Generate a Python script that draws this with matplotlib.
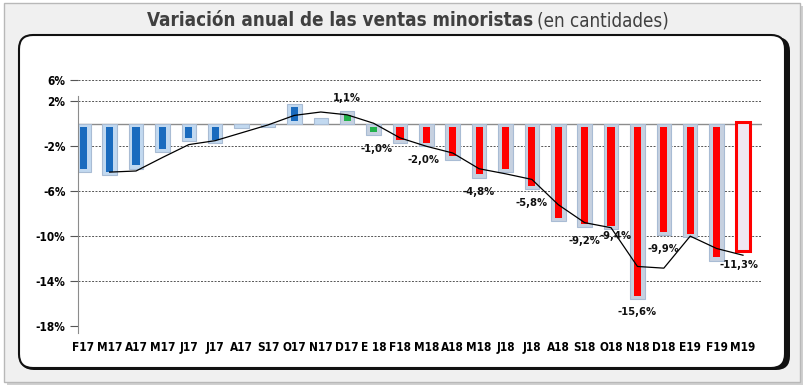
import numpy as np
import matplotlib.pyplot as plt
from matplotlib.patches import FancyBboxPatch, Rectangle
from matplotlib.transforms import IdentityTransform

# datos
meses = ["F17", "M17", "A17", "M17", "J17", "J17", "A17", "S17", "O17", "N17", "D17", "E 18",
         "F18", "M18", "A18", "M18", "J18", "J18", "A18", "S18", "O18", "N18", "D18", "E19", "F19", "M19"]
variacion = [-4.3, -4.6, -4.0, -2.5, -1.55, -1.7, -0.4, -0.3, 1.8, 0.55, 1.1, -1.0,
             -1.7, -2.0, -3.2, -4.8, -4.3, -5.8, -8.65, -9.2, -9.4, -15.6, -9.9, -10.1, -12.2, -11.3]
tendencia = [np.nan, -4.3, -4.2, -3.0, -1.85, -1.5, -0.8, -0.1, 0.75, 1.05, 0.8, 0.05,
             -1.25, -2.0, -2.6, -4.0, -4.45, -4.95, -7.2, -8.8, -9.25, -12.7, -12.85, -10.0, -11.1, -11.7]
con_etiqueta = [10, 11, 13, 15, 17, 19, 20, 21, 22, 25]
ticks_y = [3.9, 2, -2, -6, -10, -14, -18]
ticks_y_txt = ["6%", "2%", "-2%", "-6%", "-10%", "-14%", "-18%"]

azul = "#1A6BBE"
verde = "#22B14C"
rojo = "#FF0000"
colores = [azul] * 10 + [verde] * 2 + [rojo] * 14
# desplazamiento de algunas etiquetas (puntos)
desplaz = {11: (2, -10), 13: (-2, -10), 19: (0, -10), 20: (3, -5), 21: (0, -9), 25: (-3, -10)}
fuente = dict(family="DejaVu Sans", fontstretch="condensed", fontweight="bold")

fig = plt.figure(figsize=(8.09, 3.88), dpi=100)
fig.patch.set_facecolor("white")

# marco exterior, franja gris y panel negro redondeado (en pixeles)
fondo = [
    Rectangle((7, 3), 796, 379, facecolor="#D0D0D0", edgecolor="none"),
    Rectangle((4, 6), 796, 379, facecolor="#F0F0F0", edgecolor="#B8B8B8", lw=1),
    FancyBboxPatch((20, 18), 770, 333, boxstyle="round,pad=0,rounding_size=14",
                   facecolor="#111111", edgecolor="none"),
    FancyBboxPatch((19, 20), 766, 333, boxstyle="round,pad=0,rounding_size=14",
                   facecolor="white", edgecolor="#111111", lw=1.5),
]
for p in fondo:
    p.set_transform(IdentityTransform())
    p.set_zorder(-10)
    fig.patches.append(p)

fig.text(533 / 809, 1 - 21 / 388, "Variación anual de las ventas minoristas", ha="right", va="center",
         fontsize=13.5, fontweight="bold", color="#404040", family="DejaVu Sans", fontstretch="condensed")
fig.text(537 / 809, 1 - 21 / 388, "(en cantidades)", ha="left", va="center",
         fontsize=13.5, color="#404040", family="DejaVu Sans", fontstretch="condensed")

ax = fig.add_axes([78 / 809, 1 - 326 / 388, (762 - 78) / 809, (326 - 80) / 388])
ax.set_facecolor("none")
x = np.arange(len(meses))

# barra clara de fondo
for i, v in enumerate(variacion):
    if i == len(variacion) - 1:
        ax.bar(i, v - 0.15, bottom=0.15, width=0.52, color="#EFE6F2", edgecolor=rojo, lw=2.2, zorder=3)
        continue
    claro = "#C2D9F0" if colores[i] == azul else "#C6D1E0"
    ax.bar(i, v, width=0.55, color=claro, edgecolor="#A9BCD4", lw=0.8, zorder=2)
    # barra interior oscura
    s = np.sign(v)
    if abs(v) > 0.55:
        ax.bar(i, (v - s * 0.3) - s * 0.25, bottom=s * 0.25, width=0.27, color=colores[i], lw=0, zorder=3)

ax.plot(x, tendencia, color="black", lw=0.9, zorder=4)

for i in con_etiqueta:
    v = variacion[i]
    txt = f"{v:.1f}%".replace(".", ",")
    off = desplaz.get(i, (0, 10 if v > 0 else -10))
    ax.annotate(txt, (i, v), xytext=off, textcoords="offset points", ha="center", va="center",
                fontsize=8, color="#111111", zorder=5, **fuente)

ax.axhline(0, color="#8C8C8C", lw=1, zorder=1)
for t in ticks_y:
    ax.axhline(t, color="#555555", lw=0.7, dashes=(2, 1.5), zorder=1)

ax.set_xlim(-0.2, 25.72)
ax.set_ylim(-18, 3.9)
ax.set_yticks(ticks_y)
ax.set_yticklabels(ticks_y_txt, fontsize=8.5, **fuente)
ax.set_xticks(x)
ax.set_xticklabels(meses, fontsize=8.5, **fuente)
ax.tick_params(axis="x", length=0, pad=11)
ax.tick_params(axis="y", length=6, color="#555555", pad=3)
for lado in ["top", "right", "bottom"]:
    ax.spines[lado].set_visible(False)
ax.spines["left"].set_color("#8C8C8C")
ax.spines["left"].set_bounds(-18.6, 2.5)

fig.savefig("out.png", dpi=100)
